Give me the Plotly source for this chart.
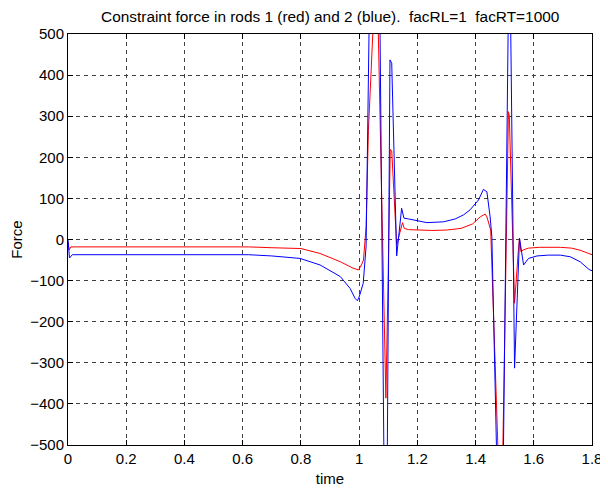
import plotly.graph_objects as go

# Red series (rod 1)
t_red = [0, 0.004, 0.01, 0.62, 0.7, 0.8, 0.866, 0.935, 0.98, 0.998, 1.008, 1.015, 1.024,
         1.032, 1.047, 1.055, 1.066, 1.08, 1.092, 1.1, 1.107, 1.112, 1.129, 1.149, 1.155,
         1.17, 1.2, 1.25, 1.3, 1.35, 1.39, 1.416, 1.433, 1.439, 1.452, 1.465, 1.479, 1.486,
         1.494, 1.505, 1.513, 1.516, 1.534, 1.548, 1.551, 1.556, 1.565, 1.582, 1.62, 1.691,
         1.73, 1.759, 1.79, 1.8]
f_red = [-5, -25, -18, -18, -20, -22, -34, -54, -70, -74, -62, -50, 31,
         266, 500, 720, 500, 50, -386, -80, 219, 216, -13, 41, 27,
         24, 23, 22, 23, 27, 38, 55, 62, 55, 23, -250, -500, -700,
         -500, 0, 311, 300, -155, -17, 3, -30, -25, -21, -19, -19,
         -21, -26, -35, -37]

# Blue series (rod 2)
t_blue = [0, 0.005, 0.015, 0.62, 0.7, 0.797, 0.866, 0.935, 0.969, 0.986, 0.994, 1.0,
          1.014, 1.024, 1.034, 1.05, 1.072, 1.084, 1.09, 1.097, 1.106, 1.112, 1.129, 1.146,
          1.154, 1.17, 1.2, 1.233, 1.29, 1.33, 1.359, 1.381, 1.41, 1.427, 1.439, 1.45, 1.456,
          1.471, 1.484, 1.496, 1.51, 1.515, 1.521, 1.534, 1.551, 1.565, 1.582, 1.611, 1.65,
          1.691, 1.725, 1.759, 1.79, 1.8]
f_blue = [0, -45, -37, -37, -40, -46, -62, -90, -119, -143, -149, -140,
          -107, -17, 500, 800, 500, -500, -900, -500, 437, 429, -40, 76,
          52, 50, 46, 41, 43, 50, 60, 72, 96, 122, 116, 55, 7,
          -500, -900, -500, 500, 700, 500, -313, 3, -62, -46, -40, -38,
          -38, -42, -54, -73, -76]

x_ticks = [0, 0.2, 0.4, 0.6, 0.8, 1.0, 1.2, 1.4, 1.6, 1.8]
x_tick_labels = ["0", "0.2", "0.4", "0.6", "0.8", "1", "1.2", "1.4", "1.6", "1.8"]
y_ticks = [-500, -400, -300, -200, -100, 0, 100, 200, 300, 400, 500]

fig = go.Figure()
fig.add_trace(go.Scatter(x=t_red, y=f_red, mode="lines",
                         line=dict(color="#ff0000", width=1), showlegend=False))
fig.add_trace(go.Scatter(x=t_blue, y=f_blue, mode="lines",
                         line=dict(color="#0000ff", width=1), showlegend=False))

font = "Liberation Sans, Arial, Helvetica, sans-serif"
axis_common = dict(showgrid=True, gridcolor="#404040", griddash="4px,4px", gridwidth=1,
                   showline=True, linecolor="black", linewidth=1, mirror="ticks",
                   ticks="inside", ticklen=5, tickcolor="black", zeroline=False,
                   automargin=False,
                   tickfont=dict(family=font, size=15, color="black"))

fig.update_layout(
    width=600, height=482,
    paper_bgcolor="white", plot_bgcolor="white",
    margin=dict(l=60, r=16, t=26, b=45),
    title=dict(text="Constraint force in rods 1 (red) and 2 (blue).\u00a0\u00a0facRL=1\u00a0\u00a0facRT=1000",
               x=0.537, xanchor="center", y=0.983, yanchor="middle",
               font=dict(family=font, size=15.4, color="black")),
    xaxis=dict(range=[0, 1.8], tickvals=x_ticks, ticktext=x_tick_labels,
               title=dict(text="time", font=dict(family=font, size=15, color="black"), standoff=7),
               **axis_common),
    yaxis=dict(range=[-500, 500], tickvals=y_ticks,
               title=dict(text="Force", font=dict(family=font, size=15, color="black"), standoff=11),
               **axis_common),
)

fig.write_html("out.html")
